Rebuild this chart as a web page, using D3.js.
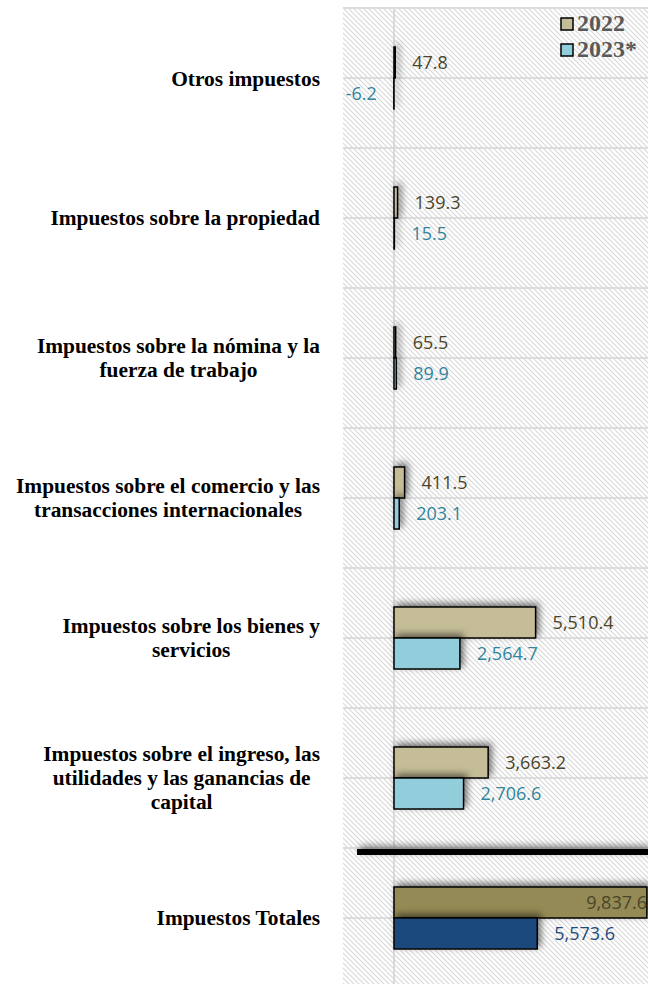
<!DOCTYPE html>
<html>
<head>
<meta charset="utf-8">
<script src="https://cdn.jsdelivr.net/npm/d3@7"></script>
<style>
  html, body { margin: 0; padding: 0; background: #fff; }
  svg { display: block; }
</style>
</head>
<body>
<div id="chart"></div>
<script>
// categories, top to bottom
var categories = [
  "Otros impuestos",
  "Impuestos sobre la propiedad",
  "Impuestos sobre la nómina y la fuerza de trabajo",
  "Impuestos sobre el comercio y las transacciones internacionales",
  "Impuestos sobre los bienes y servicios",
  "Impuestos sobre el ingreso, las utilidades y las ganancias de capital",
  "Impuestos Totales"
];
// how each label wraps (as in the original)
var labelLines = [
  ["Otros impuestos"],
  ["Impuestos sobre la propiedad"],
  ["Impuestos sobre la nómina y la", "fuerza de trabajo"],
  ["Impuestos sobre el comercio y las", "transacciones internacionales"],
  ["Impuestos sobre los bienes y", "servicios"],
  ["Impuestos sobre el ingreso, las", "utilidades y las ganancias de", "capital"],
  ["Impuestos Totales"]
];
var series = ["2022", "2023*"];
var values2022 = [47.8, 139.3, 65.5, 411.5, 5510.4, 3663.2, 9837.6];
var values2023 = [-6.2, 15.5, 89.9, 203.1, 2564.7, 2706.6, 5573.6];

var W = 648, H = 984;
var plot = { left: 343, right: 648, top: 8, bottom: 988 };

var svg = d3.select("#chart").append("svg")
  .attr("width", W)
  .attr("height", H);

var defs = svg.append("defs");

// diagonal hatch background
var pat = defs.append("pattern")
  .attr("id", "hatch")
  .attr("patternUnits", "userSpaceOnUse")
  .attr("width", 5).attr("height", 5);
pat.append("rect").attr("width", 5).attr("height", 5).attr("fill", "#fff");
pat.append("path")
  .attr("d", "M-1,-1L6,6M-1,4L1,6M4,-1L6,1")
  .attr("stroke", "#d8d8d8").attr("stroke-width", 1.1);

// drop shadow, in user space so thin marks keep theirs
var shadow = defs.append("filter")
  .attr("id", "shadow")
  .attr("filterUnits", "userSpaceOnUse")
  .attr("x", 0).attr("y", 0)
  .attr("width", W).attr("height", H);
shadow.append("feDropShadow")
  .attr("dx", 3).attr("dy", -3)
  .attr("stdDeviation", 3.5)
  .attr("flood-color", "#000")
  .attr("flood-opacity", 0.55);

var clip = defs.append("clipPath").attr("id", "plotclip");
clip.append("rect")
  .attr("x", plot.left).attr("y", 0)
  .attr("width", plot.right - plot.left).attr("height", H);

// scales
var x = d3.scaleLinear()
  .domain([-2000, 10000])
  .range([342.6, 651]);

var y = d3.scaleBand()
  .domain(categories)
  .range([plot.top, plot.bottom])
  .paddingInner(0.557)
  .paddingOuter(0.2786);

var ySub = d3.scaleBand()
  .domain(series)
  .range([0, y.bandwidth()]);

// background
svg.append("rect")
  .attr("x", plot.left).attr("y", plot.top)
  .attr("width", plot.right - plot.left)
  .attr("height", H - plot.top)
  .attr("fill", "url(#hatch)");

// horizontal grid lines (boundaries and centres of each category)
var step = y.step();
var gridY = d3.range(0, categories.length * 2 + 1).map(function(i) {
  return plot.top + i * step / 2;
});
svg.append("g").selectAll("line")
  .data(gridY)
  .enter().append("line")
  .attr("x1", plot.left).attr("x2", plot.right)
  .attr("y1", function(d) { return d; })
  .attr("y2", function(d) { return d; })
  .attr("stroke", "#dcdcdc")
  .attr("stroke-width", 2);

// zero line
svg.append("line")
  .attr("x1", x(0)).attr("x2", x(0))
  .attr("y1", plot.top).attr("y2", H)
  .attr("stroke", "#d9d9d9")
  .attr("stroke-width", 2);

// separator before totals
var sepY = y(categories[6]) - 35;
svg.append("rect")
  .attr("x", 357).attr("width", W - 357)
  .attr("y", sepY - 3).attr("height", 6)
  .attr("fill", "#000")
  .attr("filter", "url(#shadow)");

// bars
var rows = categories.map(function(c, i) {
  return { cat: c, i: i, vals: [values2022[i], values2023[i]] };
});

var fills = function(d, s) {
  if (d.i === 6) return s === 0 ? "#948a54" : "#1f497d";
  return s === 0 ? "#c4bd97" : "#92cddc";
};
var labelColor = function(d, s) {
  if (d.i === 6) return s === 0 ? "#4a452a" : "#1f497d";
  return s === 0 ? "#4a452a" : "#31859c";
};

var barData = [];
rows.forEach(function(r) {
  series.forEach(function(s, si) {
    barData.push({ row: r, s: si, name: s, v: r.vals[si] });
  });
});

var gBars = svg.append("g").attr("clip-path", "url(#plotclip)");

gBars.selectAll("rect.bar")
  .data(barData)
  .enter().append("rect")
  .attr("class", "bar")
  .attr("x", function(d) { return x(Math.min(0, d.v)); })
  .attr("y", function(d) { return y(d.row.cat) + ySub(d.name); })
  .attr("width", function(d) { return Math.abs(x(d.v) - x(0)); })
  .attr("height", ySub.bandwidth())
  .attr("fill", function(d) { return fills(d.row, d.s); })
  .attr("stroke", "#000")
  .attr("stroke-width", 1.5)
  .attr("filter", "url(#shadow)");

var fmt = d3.formatLocale({
  decimal: ".", thousands: ",", grouping: [3], currency: ["", ""], minus: "-"
}).format(",.1f");

svg.append("g").selectAll("text.val")
  .data(barData)
  .enter().append("text")
  .attr("class", "val")
  .attr("x", function(d) {
    if (d.row.i === 6 && d.s === 0) return W - 1;
    return d.v < 0 ? x(d.v) - 17 : x(d.v) + 17;
  })
  .attr("y", function(d) { return y(d.row.cat) + ySub(d.name) + ySub.bandwidth() / 2; })
  .attr("dy", "0.35em")
  .attr("text-anchor", function(d) {
    if (d.row.i === 6 && d.s === 0) return "end";
    return d.v < 0 ? "end" : "start";
  })
  .attr("fill", function(d) { return labelColor(d.row, d.s); })
  .style("font-family", "'Open Sans', 'Noto Sans', sans-serif")
  .style("font-size", "18px")
  .text(function(d) { return fmt(d.v); });

// category labels: each line centred, block right-aligned
var gLab = svg.append("g")
  .style("font-family", "'Liberation Serif', 'Times New Roman', serif")
  .style("font-weight", "bold")
  .style("font-size", "21.4px")
  .attr("fill", "#000");

var lineH = 24;
var labelRight = 320;
rows.forEach(function(r) {
  var lines = labelLines[r.i];
  var cy = y(r.cat) + y.bandwidth() / 2;
  var g = gLab.append("g");
  var texts = g.selectAll("text")
    .data(lines)
    .enter().append("text")
    .attr("text-anchor", "middle")
    .attr("y", function(d, k) { return cy + (k - (lines.length - 1) / 2) * lineH; })
    .attr("dy", "0.35em")
    .text(function(d) { return d; });
  var maxW = 0;
  texts.each(function() { maxW = Math.max(maxW, this.getComputedTextLength()); });
  texts.attr("x", labelRight - maxW / 2);
});

// legend
var legend = svg.append("g")
  .style("font-family", "'Liberation Serif', 'Times New Roman', serif")
  .style("font-weight", "bold")
  .style("font-size", "24px");

var legY = [18, 44];
series.forEach(function(s, si) {
  var lg = legend.append("g");
  lg.append("rect")
    .attr("x", 561).attr("y", legY[si])
    .attr("width", 12).attr("height", 12)
    .attr("fill", si === 0 ? "#c4bd97" : "#92cddc")
    .attr("stroke", "#000")
    .attr("stroke-width", 1.5);
  lg.append("text")
    .attr("x", 577).attr("y", legY[si] + 13)
    .attr("fill", "#595959")
    .text(s);
});
</script>
</body>
</html>
